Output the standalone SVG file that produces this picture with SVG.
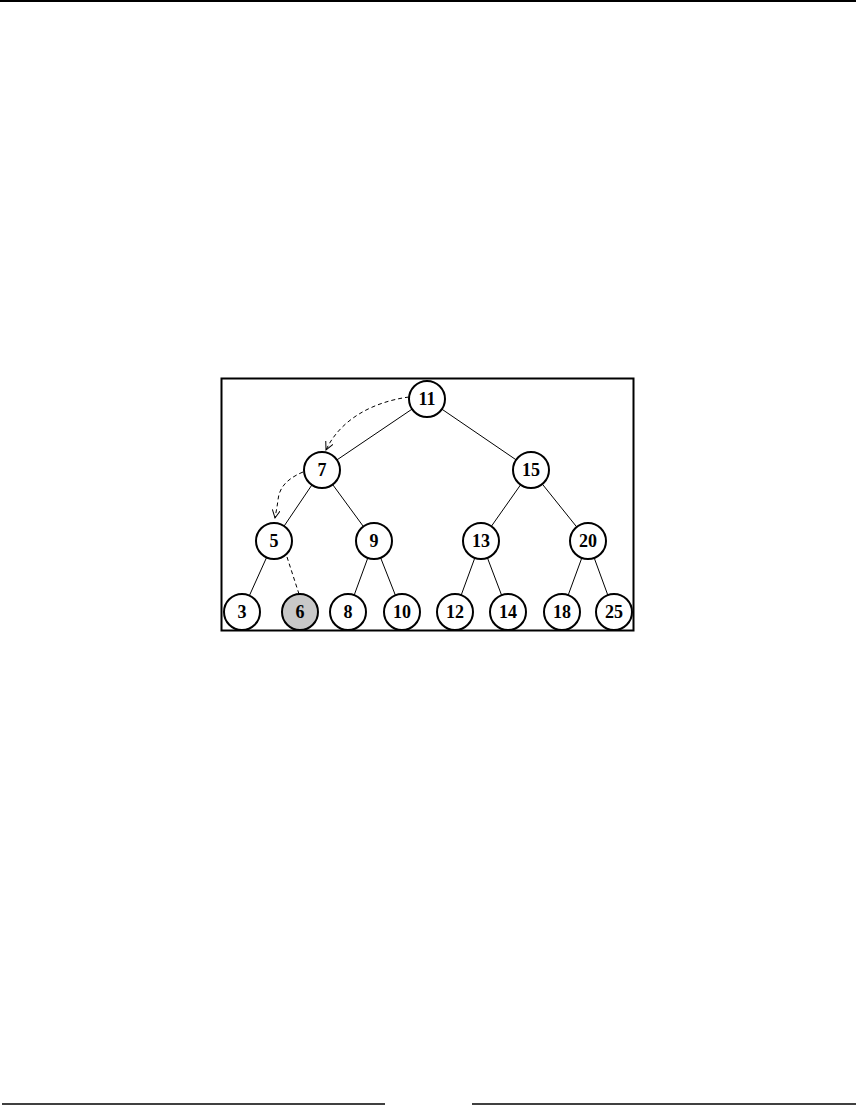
<svg xmlns="http://www.w3.org/2000/svg" width="856" height="1105" viewBox="0 0 856 1105">
<style>
.n circle{fill:#fff;stroke:#000;stroke-width:2}
.n text{font-family:"Liberation Serif",serif;font-weight:bold;font-size:18px;text-anchor:middle;fill:#000}
.e line{stroke:#000;stroke-width:1}
.d{fill:none;stroke:#000;stroke-width:1;stroke-dasharray:4,3}
</style>
<defs>
<marker id="ah" markerWidth="10" markerHeight="10" refX="8" refY="4" orient="auto" markerUnits="userSpaceOnUse">
<path d="M0,0 L8,4 L0,8" fill="none" stroke="#000" stroke-width="1"/>
</marker>
</defs>
<rect width="856" height="1105" fill="#fff"/>
<line x1="0" y1="1" x2="856" y2="1" stroke="#000" stroke-width="2"/>
<line x1="2" y1="1104" x2="385" y2="1104" stroke="#000" stroke-width="1.5"/>
<line x1="472" y1="1104" x2="856" y2="1104" stroke="#000" stroke-width="1.5"/>
<rect x="221.5" y="378.5" width="412" height="252" fill="none" stroke="#000" stroke-width="2"/>
<g id="connectors" class="e">
<line x1="427" y1="399" x2="322" y2="470"/>
<line x1="427" y1="399" x2="531" y2="470"/>
<line x1="322" y1="470" x2="274" y2="541"/>
<line x1="322" y1="470" x2="374" y2="541"/>
<line x1="531" y1="470" x2="481" y2="541"/>
<line x1="531" y1="470" x2="588" y2="541"/>
<line x1="274" y1="541" x2="242" y2="612"/>
<line x1="374" y1="541" x2="348" y2="612"/>
<line x1="374" y1="541" x2="402" y2="612"/>
<line x1="481" y1="541" x2="455" y2="612"/>
<line x1="481" y1="541" x2="508" y2="612"/>
<line x1="588" y1="541" x2="562" y2="612"/>
<line x1="588" y1="541" x2="614" y2="612"/>
<line x1="287" y1="557" x2="299" y2="594" class="d"/>
<path class="d" d="M409,397 C372,402 340,420 326,450" marker-end="url(#ah)"/>
<path class="d" d="M303,472 C284,480 279,490 278,500 C277,508 276,512 275,518" marker-end="url(#ah)"/>
</g>
<g id="n11" class="n"><circle cx="427" cy="399" r="18"/><text x="427" y="405">11</text></g>
<g id="n7" class="n"><circle cx="322" cy="470" r="18"/><text x="322" y="476">7</text></g>
<g id="n15" class="n"><circle cx="531" cy="470" r="18"/><text x="531" y="476">15</text></g>
<g id="n5" class="n"><circle cx="274" cy="541" r="18"/><text x="274" y="547">5</text></g>
<g id="n9" class="n"><circle cx="374" cy="541" r="18"/><text x="374" y="547">9</text></g>
<g id="n13" class="n"><circle cx="481" cy="541" r="18"/><text x="481" y="547">13</text></g>
<g id="n20" class="n"><circle cx="588" cy="541" r="18"/><text x="588" y="547">20</text></g>
<g id="n3" class="n"><circle cx="242" cy="612" r="18"/><text x="242" y="618">3</text></g>
<g id="n6" class="n"><circle cx="300" cy="612" r="18" style="fill:#c8c8c8"/><text x="300" y="618">6</text></g>
<g id="n8" class="n"><circle cx="348" cy="612" r="18"/><text x="348" y="618">8</text></g>
<g id="n10" class="n"><circle cx="402" cy="612" r="18"/><text x="402" y="618">10</text></g>
<g id="n12" class="n"><circle cx="455" cy="612" r="18"/><text x="455" y="618">12</text></g>
<g id="n14" class="n"><circle cx="508" cy="612" r="18"/><text x="508" y="618">14</text></g>
<g id="n18" class="n"><circle cx="562" cy="612" r="18"/><text x="562" y="618">18</text></g>
<g id="n25" class="n"><circle cx="614" cy="612" r="18"/><text x="614" y="618">25</text></g>
</svg>
